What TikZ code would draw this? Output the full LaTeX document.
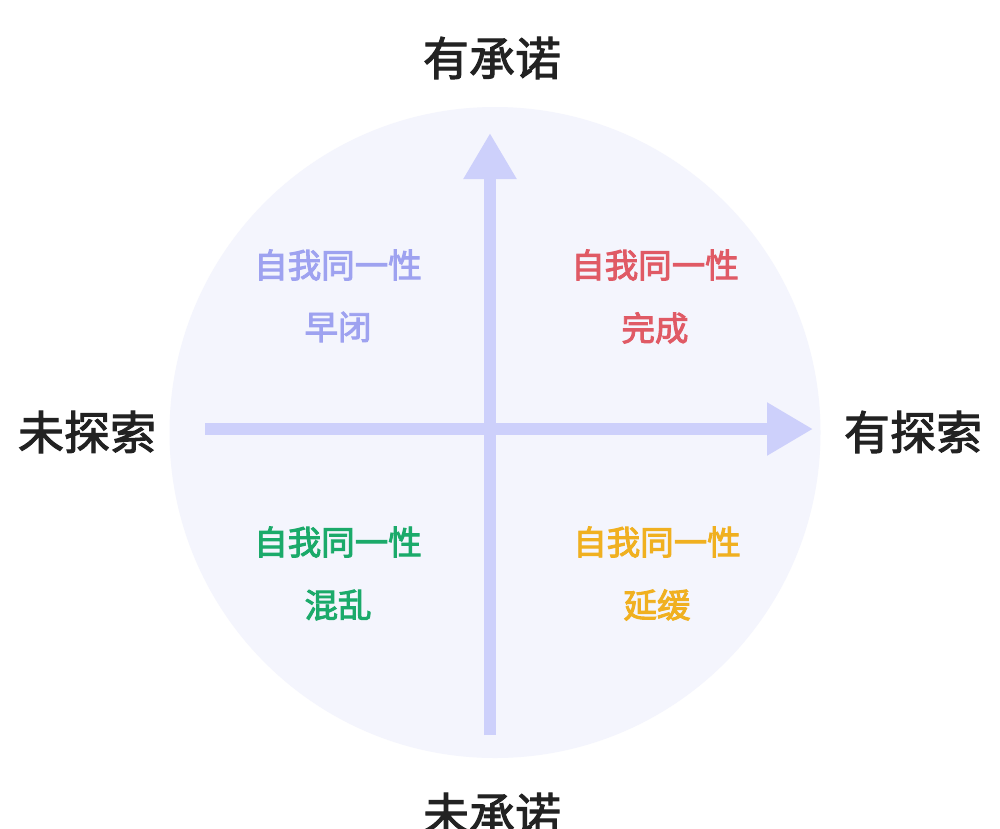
\documentclass[tikz,border=0pt]{standalone}
\usepackage{fontspec}
\newfontfamily\cjk[FakeBold=2.2]{Noto Sans CJK SC}
\newfontfamily\cjkq[FakeBold=2.8]{Noto Sans CJK SC}
\usetikzlibrary{arrows.meta}
\definecolor{bgcircle}{HTML}{F4F5FD}
\definecolor{axiscol}{HTML}{CDD0FB}
\definecolor{labcol}{HTML}{222222}
\definecolor{qpurple}{HTML}{9EA2F0}
\definecolor{qred}{HTML}{E05A65}
\definecolor{qgreen}{HTML}{1BAA6A}
\definecolor{qyellow}{HTML}{F0B020}
\tikzset{
  axislabel/.style={font=\cjk\fontsize{46}{54}\selectfont, text=labcol, inner sep=0pt},
  quadtext/.style={font=\cjkq\fontsize{33.5}{40}\selectfont, inner sep=0pt},
  axisline/.style={draw=axiscol, line width=12pt, -{Triangle[width=50pt,length=46pt]}}
}
\begin{document}
\begin{tikzpicture}[x=1pt,y=-1pt]
\useasboundingbox[fill=white] (0,0) rectangle (1000,828);
\fill[bgcircle] (495,432.5) circle[radius=325.5];
\coordinate (hstart) at (205,429);
\coordinate (hend) at (813,429);
\coordinate (vstart) at (490,735);
\coordinate (vend) at (490,133);
\draw[axisline] (hstart) -- (hend);
\draw[axisline] (vstart) -- (vend);
\node[axislabel] (top) at (492,58) {有承诺};
\node[axislabel] (bottom) at (492,814) {未承诺};
\node[axislabel] (left) at (87,432) {未探索};
\node[axislabel] (right) at (913,432) {有探索};
\node[quadtext, text=qpurple] (ul1) at (338,265) {自我同一性};
\node[quadtext, text=qpurple] (ul2) at (338,327) {早闭};
\node[quadtext, text=qred] (ur1) at (655,265) {自我同一性};
\node[quadtext, text=qred] (ur2) at (655,328) {完成};
\node[quadtext, text=qgreen] (ll1) at (338,542) {自我同一性};
\node[quadtext, text=qgreen] (ll2) at (338,605) {混乱};
\node[quadtext, text=qyellow] (lr1) at (657,542) {自我同一性};
\node[quadtext, text=qyellow] (lr2) at (657,605) {延缓};
\end{tikzpicture}
\end{document}
